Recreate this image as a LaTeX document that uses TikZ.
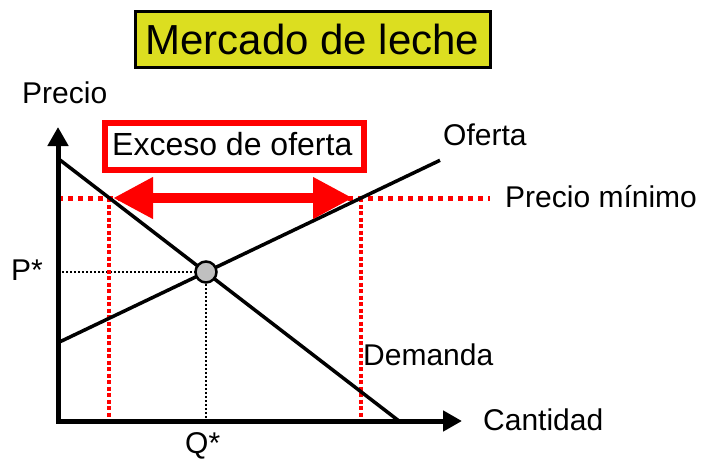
\documentclass[tikz,border=0pt]{standalone}
\usepackage{fontspec}
\setmainfont{Liberation Sans}
\usetikzlibrary{arrows.meta}
\definecolor{titleyellow}{RGB}{220,222,32}
\definecolor{eqgray}{RGB}{192,192,192}
\definecolor{floorred}{RGB}{255,0,0}
\tikzset{
  lbl/.style={inner sep=0pt, anchor=base west, font=\fontsize{30}{36}\selectfont},
  curve/.style={line width=3.5pt, black},
  axisline/.style={line width=5pt, line join=miter, {Triangle[length=19pt,width=20pt]}-{Triangle[length=19pt,width=20pt]}},
  reddots/.style={line width=5pt, floorred, dash pattern=on 5pt off 5pt},
  redvert/.style={line width=4pt, floorred, dash pattern=on 4pt off 2.5pt},
  blackdots/.style={line width=2pt, black, dash pattern=on 2pt off 2pt},
  bigarrow/.style={line width=10pt, floorred, {Triangle[length=40pt,width=39pt]}-{Triangle[length=40pt,width=39pt]}},
}
\begin{document}
\begin{tikzpicture}[x=1pt,y=-1pt]
\useasboundingbox (0,0) rectangle (711,463);
% coordinates
\coordinate (O) at (58,421);
\coordinate (Ytop) at (58,127);
\coordinate (Xtip) at (462,421);
\coordinate (D1) at (60,160);
\coordinate (D2) at (399,421);
\coordinate (S1) at (58,342.7);
\coordinate (S2) at (440,160.3);
\coordinate (Eq) at (206,272);
\coordinate (FL) at (58,198);
\coordinate (FR) at (490,198);
\coordinate (A) at (109,198);
\coordinate (B) at (361,198);
\coordinate (Abot) at (109,418);
\coordinate (Bbot) at (361,418);
\coordinate (Py) at (58,272);
\coordinate (Qx) at (206,419);
\coordinate (ArL) at (113,198);
\coordinate (ArR) at (353,198);

% title
\node[draw=black, line width=3pt, fill=titleyellow, minimum width=355pt, minimum height=56pt, inner sep=0pt,
      font=\fontsize{42}{50}\selectfont] (title) at (312.5,39.5) {Mercado de leche};

% guide lines
\draw[blackdots] (Py) -- (Eq);
\draw[blackdots] (Eq) -- (Qx);
\draw[redvert] (A) -- (Abot);
\draw[redvert] (B) -- (Bbot);
\draw[reddots] (FL) -- (FR);

% curves
\draw[curve] (D1) -- (D2);
\draw[curve] (S1) -- (S2);

% axes
\draw[axisline] (Ytop) -- (O) -- (Xtip);

% excess box
\node[draw=floorred, line width=6pt, minimum width=259pt, minimum height=47pt, inner sep=0pt] (exbox) at (234.5,146.5) {};
\node[inner sep=0pt, anchor=base west, font=\fontsize{32}{38}\selectfont] (extext) at (112,155) {Exceso de oferta};

% double arrow
\draw[bigarrow] (ArL) -- (ArR);

% equilibrium
\node[circle, draw=black, line width=2.5pt, fill=eqgray, minimum size=21pt, inner sep=0pt] (eqdot) at (Eq) {};

% labels
\node[lbl] (precio) at (22,103) {Precio};
\node[lbl] (oferta) at (443,145) {Oferta};
\node[lbl] (pmin) at (505,207) {Precio mínimo};
\node[lbl] (demanda) at (363,365) {Demanda};
\node[lbl] (cantidad) at (483,430) {Cantidad};
\node[lbl] (pstar) at (11,280) {P*};
\node[lbl] (qstar) at (185,453) {Q*};
\end{tikzpicture}
\end{document}
